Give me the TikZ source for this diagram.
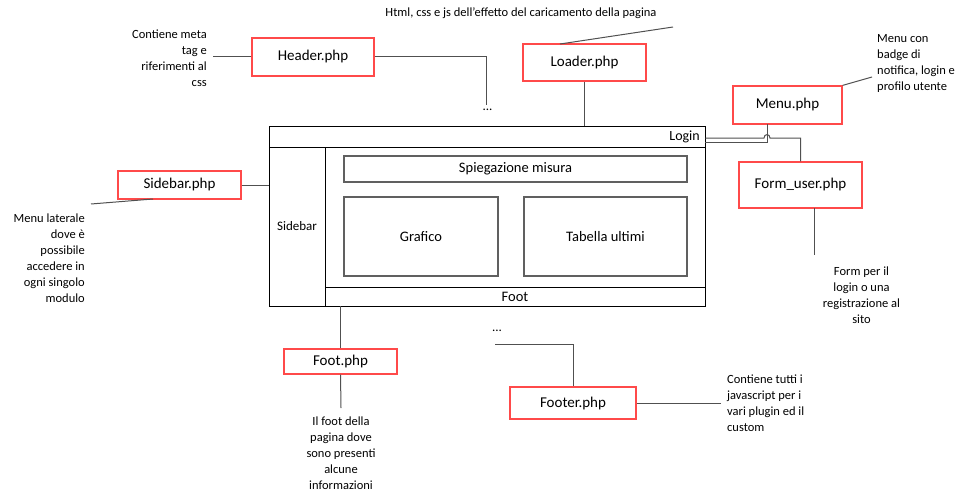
\documentclass[tikz,border=0pt]{standalone}
\usepackage{fontspec}
\setmainfont{Carlito}
\usetikzlibrary{calc}
\definecolor{boxred}{HTML}{FF4A4A}
\definecolor{linegray}{HTML}{505050}
\definecolor{innergray}{HTML}{606060}
\tikzset{
  phpbox/.style={draw=boxred, line width=1.2pt, fill=white, inner sep=0pt,
    font=\fontsize{15}{18}\selectfont},
  conn/.style={draw=linegray, line width=1pt},
  wire/.style={draw=black, line width=0.9pt, inner sep=0pt},
  innerbox/.style={draw=innergray, line width=1.1pt, inner sep=0pt,
    font=\fontsize{14.5}{17}\selectfont},
  note/.style={inner sep=0pt, font=\fontsize{12.5}{16}\selectfont},
}
\begin{document}
\begin{tikzpicture}[x=1pt,y=-1pt]
\useasboundingbox (0,0) rectangle (971,500);

% wireframe of the page
\node[wire, minimum width=436pt, minimum height=21pt] (loginbar) at (487,136.5) {};
\node[anchor=east, inner sep=0pt, font=\fontsize{14}{16}\selectfont] (logintxt) at (700,137) {Login};
\node[wire, minimum width=56pt, minimum height=159pt, font=\fontsize{13}{15}\selectfont] (sidebar) at (297,226.5) {Sidebar};
\node[wire, minimum width=380pt, minimum height=159pt] (content) at (515,226.5) {};
\node[wire, minimum width=380pt, minimum height=19pt, font=\fontsize{14.5}{17}\selectfont] (foot) at (515,296.5) {Foot};
\node[innerbox, minimum width=343pt, minimum height=26pt] (spieg) at (515.5,169) {Spiegazione misura};
\node[innerbox, minimum width=154pt, minimum height=79pt] (grafico) at (421,236.5) {Grafico};
\node[innerbox, minimum width=163pt, minimum height=79pt] (tabella) at (605.5,236.5) {Tabella ultimi};

% php boxes
\node[phpbox, minimum width=122pt, minimum height=38pt] (header) at (313,57) {Header.php};
\node[phpbox, minimum width=123pt, minimum height=37pt] (loader) at (584.5,62.5) {Loader.php};
\node[phpbox, minimum width=109pt, minimum height=38pt] (menu) at (787.5,105) {Menu.php};
\node[phpbox, minimum width=123pt, minimum height=46pt] (formuser) at (800.5,185) {Form\_user.php};
\node[phpbox, minimum width=123pt, minimum height=28pt] (sidebarphp) at (179.5,185) {Sidebar.php};
\node[phpbox, minimum width=113pt, minimum height=25pt] (footphp) at (340.5,361.5) {Foot.php};
\node[phpbox, minimum width=126pt, minimum height=32pt] (footer) at (573,403) {Footer.php};

% notes
\node[note, anchor=east, align=right] (headernote) at (207,58) {Contiene meta\\tag e\\riferimenti al\\css};
\node[note] (loadernote) at (521,13) {Html, css e js dell’effetto del caricamento della pagina};
\node[note, anchor=west, align=left] (menunote) at (877,63) {Menu con\\badge di\\notifica, login e\\profilo utente};
\node[note, align=center] (formnote) at (861.5,295) {Form per il\\login o una\\registrazione al\\sito};
\node[note, anchor=east, align=right] (sidebarnote) at (85,258) {Menu laterale\\dove è\\possibile\\accedere in\\ogni singolo\\modulo};
\node[note, align=center] (footnote) at (341,453) {Il foot della\\pagina dove\\sono presenti\\alcune\\informazioni};
\node[note, anchor=west, align=left] (footernote) at (727,403) {Contiene tutti i\\javascript per i\\vari plugin ed il\\custom};
\node[inner sep=0pt, anchor=base, font=\fontsize{13}{16}\selectfont] (dotsA) at (487.5,111) {...};
\node[inner sep=0pt, anchor=base, font=\fontsize{13}{16}\selectfont] (dotsB) at (497,331) {...};

% free ends
\coordinate (hA) at (213,57);
\coordinate (hB) at (486,57);
\coordinate (hC) at (486,105);
\coordinate (lA) at (560,44);
\coordinate (lB) at (673,27);
\coordinate (mA) at (872,77);
\coordinate (mS) at (767,124);
\coordinate (sA) at (153,199);
\coordinate (sB) at (91,204);
\coordinate (fA) at (814,208);
\coordinate (fB) at (814,255);
\coordinate (ftA) at (341,408);
\coordinate (frA) at (495,344);
\coordinate (frB) at (721,403);

% connectors
\draw[conn] (header.west) -- (hA);
\draw[conn] (header.east) -- (hB) -- (hC);
\draw[conn] (loader.south) -- (loader.south |- loginbar.north);
\draw[conn] (lA) -- (lB);
\draw[conn] (menu.north east) -- (mA);
\draw[conn] (mS) -- (767,142) -- (loginbar.east |- 0,142);
\draw[conn] (formuser.north) -- (800.5,138) -- (770,138)
  .. controls (770,133.5) and (764,133.5) .. (764,138) -- (loginbar.east |- 0,138);
\draw[conn] (sidebarphp.east) -- (sidebarphp.east -| sidebar.west);
\draw[conn] (sA) -- (sB);
\draw[conn] (fA) -- (fB);
\draw[conn] (footphp.north) -- (footphp.north |- foot.south);
\draw[conn] (footphp.south) -- (ftA);
\draw[conn] (frA) -- (frA -| footer.north) -- (footer.north);
\draw[conn] (footer.east) -- (frB);
\end{tikzpicture}
\end{document}
